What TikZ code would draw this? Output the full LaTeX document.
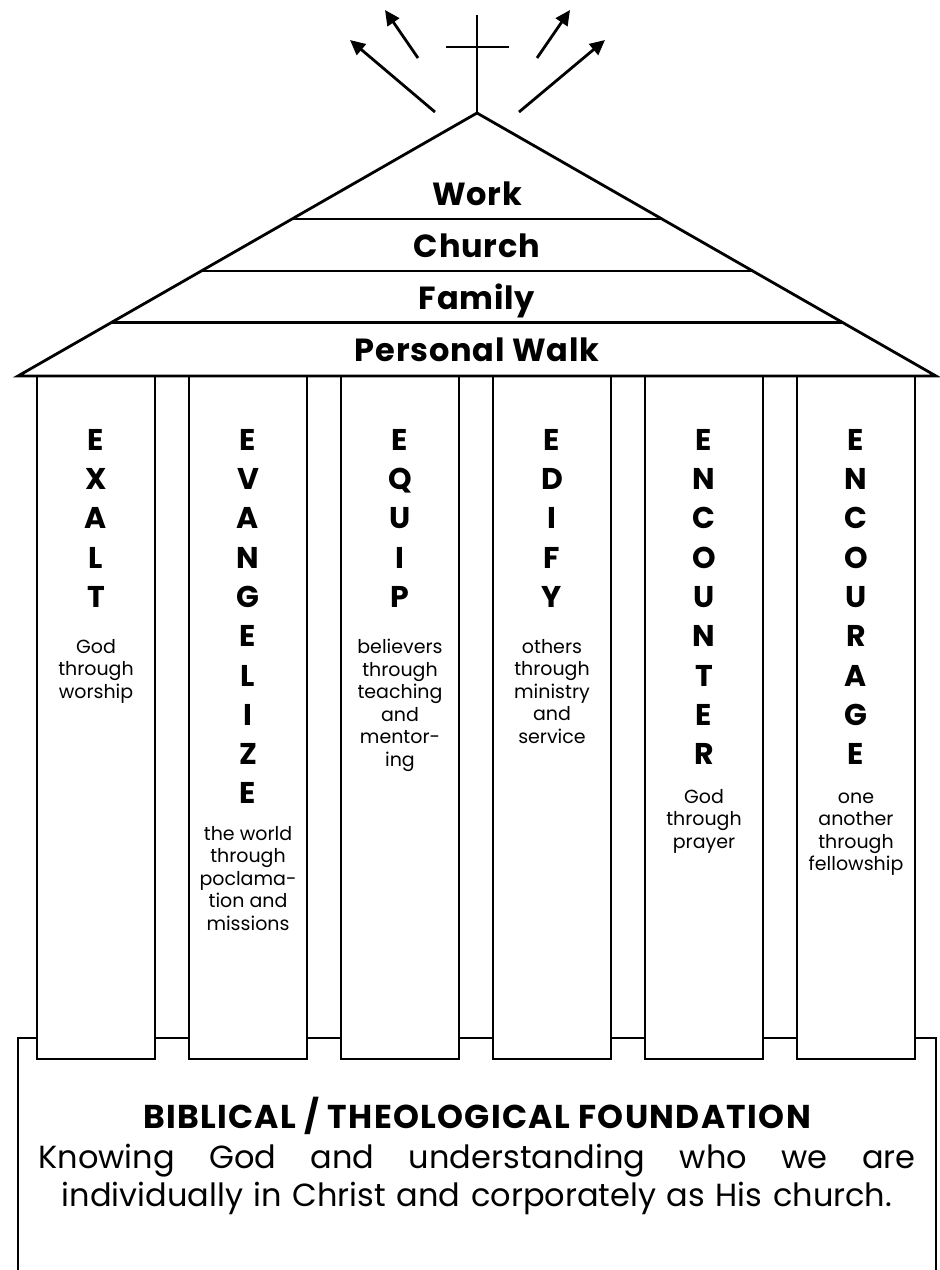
\documentclass[tikz,border=0pt]{standalone}
\usepackage{fontspec}
\setmainfont{Poppins}
\usetikzlibrary{arrows.meta,calc,positioning}

\tikzset{
  wall/.style={line width=2.8pt},
  ray/.style={line width=2.8pt,-{Triangle[length=15pt,width=14pt]}},
  pillar/.style={wall,fill=white},
  level/.style={font=\fontsize{32}{32}\selectfont\bfseries\addfontfeature{LetterSpace=2.5},anchor=base,inner sep=0pt},
  letters/.style={font=\fontsize{30}{39.3}\selectfont\bfseries,align=center,anchor=north,inner sep=0pt},
  note/.style={font=\fontsize{19}{22.5}\selectfont,align=center,anchor=north,inner sep=0pt},
}

\begin{document}
\begin{tikzpicture}[x=1pt,y=-1pt]
\useasboundingbox (0,0) rectangle (940,1270);

% cross and rays
\draw[wall] (477,15) -- (477,113);
\draw[wall] (446,47) -- (509,47);
\coordinate (rayLa) at (435,112); \coordinate (rayLb) at (350,40);
\coordinate (rayla) at (418,58);  \coordinate (raylb) at (385,10);
\coordinate (rayra) at (537,58);  \coordinate (rayrb) at (570,10);
\coordinate (rayRa) at (519,112); \coordinate (rayRb) at (605,40);
\draw[ray] (rayLa) -- (rayLb);
\draw[ray] (rayla) -- (raylb);
\draw[ray] (rayra) -- (rayrb);
\draw[ray] (rayRa) -- (rayRb);

% foundation
\draw[wall] (18,1270) -- (18,1038) -- (936,1038) -- (936,1270);
\node[font=\fontsize{33}{33}\selectfont\bfseries\addfontfeature{LetterSpace=4},anchor=base,inner sep=0pt] (title) at (477,1128) {BIBLICAL / THEOLOGICAL FOUNDATION};
\node[font=\fontsize{32}{38}\selectfont,text width=877pt,align=center,anchor=north,inner sep=0pt] (creed) at (477,1144)
  {\hbox to \linewidth{Knowing\hfill God\hfill and\hfill understanding\hfill who\hfill we\hfill are}\\individually in Christ and corporately as His church.};

% pillars
\foreach \x/\n/\word/\note/\y in {
  96/exalt/{E\\X\\A\\L\\T}/{God\\through\\worship}/639,
  248/evangelize/{E\\V\\A\\N\\G\\E\\L\\I\\Z\\E}/{the world\\through\\poclama-\\tion and\\missions}/826,
  400/equip/{E\\Q\\U\\I\\P}/{believers\\through\\teaching\\and\\mentor-\\ing}/639,
  552/edify/{E\\D\\I\\F\\Y}/{others\\through\\ministry\\and\\service}/639,
  704/encounter/{E\\N\\C\\O\\U\\N\\T\\E\\R}/{God\\through\\prayer}/789,
  856/encourage/{E\\N\\C\\O\\U\\R\\A\\G\\E}/{one\\another\\through\\fellowship}/789}{
  \draw[pillar] (\x-59,376) rectangle (\x+59,1059);
  \node[letters] (\n) at (\x,429) {\word};
  \node[note] (\n-note) at (\x,\y) {\vphantom{h}\note};
}

% roof
\coordinate (apex) at (477,113);
\coordinate (eaveL) at (18,376);
\coordinate (eaveR) at (936,376);
\draw[wall,line join=miter] (eaveL) -- (apex) -- (eaveR) -- cycle;
\draw[wall] ($(apex)!0.403!(eaveL)$) -- ($(apex)!0.403!(eaveR)$);
\draw[wall] ($(apex)!0.601!(eaveL)$) -- ($(apex)!0.601!(eaveR)$);
\draw[wall] ($(apex)!0.798!(eaveL)$) -- ($(apex)!0.798!(eaveR)$);
\node[level] (work) at (477,205) {Work};
\node[level] (church) at (477,257) {Church};
\node[level] (family) at (477,309) {Family};
\node[level] (walk) at (477,361) {Personal Walk};

\end{tikzpicture}
\end{document}
